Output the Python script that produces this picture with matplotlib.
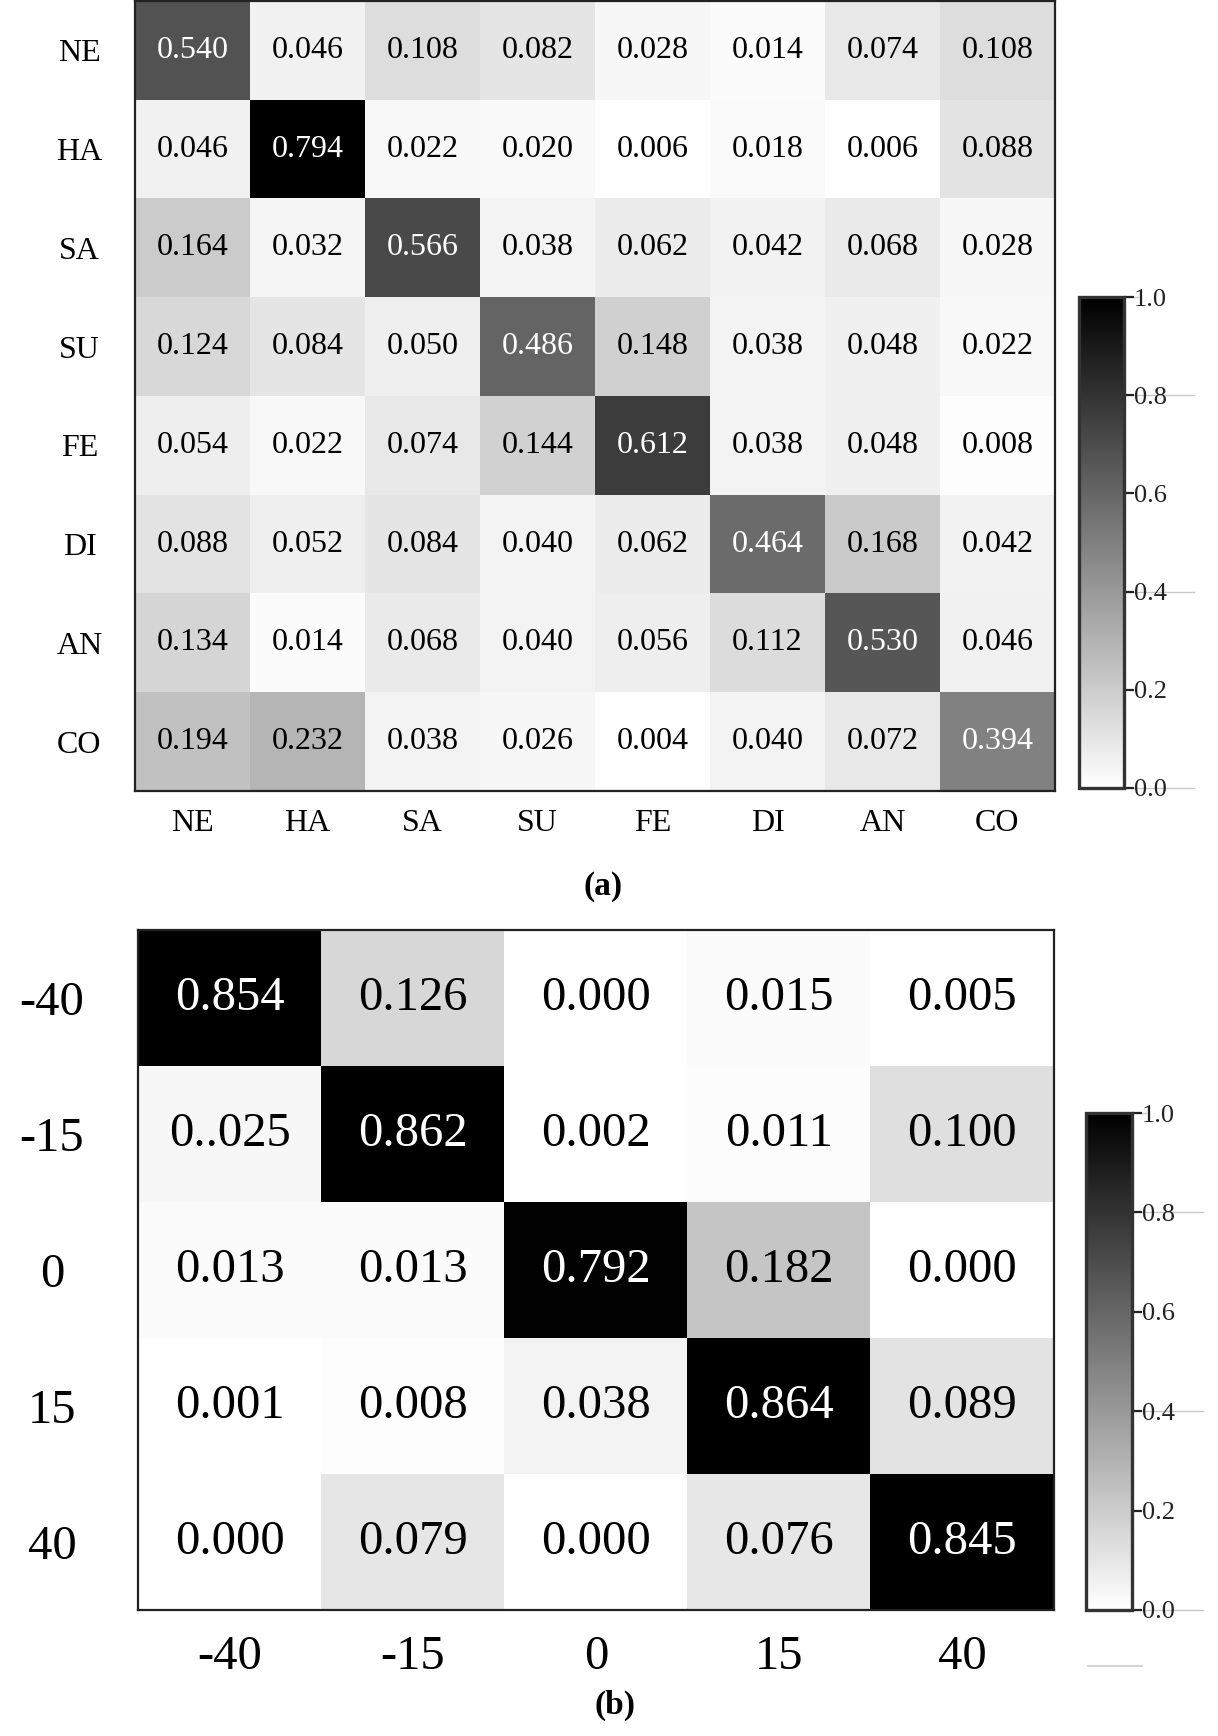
import matplotlib
matplotlib.use("Agg")
import matplotlib.pyplot as plt
import numpy as np
from matplotlib.colors import Normalize
from matplotlib.cm import ScalarMappable

# ---------------- data ----------------
emotions = ["NE", "HA", "SA", "SU", "FE", "DI", "AN", "CO"]
conf_a = [
    [0.540, 0.046, 0.108, 0.082, 0.028, 0.014, 0.074, 0.108],
    [0.046, 0.794, 0.022, 0.020, 0.006, 0.018, 0.006, 0.088],
    [0.164, 0.032, 0.566, 0.038, 0.062, 0.042, 0.068, 0.028],
    [0.124, 0.084, 0.050, 0.486, 0.148, 0.038, 0.048, 0.022],
    [0.054, 0.022, 0.074, 0.144, 0.612, 0.038, 0.048, 0.008],
    [0.088, 0.052, 0.084, 0.040, 0.062, 0.464, 0.168, 0.042],
    [0.134, 0.014, 0.068, 0.040, 0.056, 0.112, 0.530, 0.046],
    [0.194, 0.232, 0.038, 0.026, 0.004, 0.040, 0.072, 0.394],
]
angles = ["-40", "-15", "0", "15", "40"]
conf_b = [
    [0.854, 0.126, 0.000, 0.015, 0.005],
    [0.025, 0.862, 0.002, 0.011, 0.100],
    [0.013, 0.013, 0.792, 0.182, 0.000],
    [0.001, 0.008, 0.038, 0.864, 0.089],
    [0.000, 0.079, 0.000, 0.076, 0.845],
]
cbar_ticks = [0.0, 0.2, 0.4, 0.6, 0.8, 1.0]
panel_labels = ["(a)", "(b)"]

W, H = 1218, 1736
fig = plt.figure(figsize=(W / 100, H / 100), dpi=100)
serif = ["Liberation Serif", "DejaVu Serif"]
plt.rcParams["font.family"] = serif


def box(l, t, r, b):
    return [l / W, 1 - b / H, (r - l) / W, (b - t) / H]


def heat(ax, data, labels, fs_cell, fs_lab, ypad, xpad, texts=None,
         cell_weight="normal"):
    arr = np.array(data)
    n = arr.shape[0]
    ax.imshow(arr, cmap="gray_r", vmin=0, vmax=0.8, aspect="auto",
              interpolation="nearest")
    for i in range(n):
        for j in range(arr.shape[1]):
            v = arr[i, j]
            s = texts[i][j] if texts is not None else f"{v:.3f}"
            ax.text(j, i, s, ha="center", va="center", fontsize=fs_cell,
                    fontweight=cell_weight,
                    color="white" if v > 0.35 else "black")
    ax.set_xticks(range(n))
    ax.set_xticklabels(labels, fontsize=fs_lab)
    ax.set_yticks(range(n))
    ax.set_yticklabels(labels, fontsize=fs_lab, ha="center")
    ax.tick_params(length=0)
    ax.tick_params(axis="y", pad=ypad)
    ax.tick_params(axis="x", pad=xpad)
    for sp in ax.spines.values():
        sp.set_linewidth(1.6)
        sp.set_color("#222222")


def cbar(cax, fs):
    sm = ScalarMappable(norm=Normalize(0, 1), cmap="gray_r")
    cb = fig.colorbar(sm, cax=cax, ticks=cbar_ticks)
    cb.ax.set_yticklabels([f"{t:.1f}" for t in cbar_ticks], fontsize=fs)
    cb.outline.set_linewidth(2.4)
    cb.outline.set_edgecolor("#333333")
    cb.ax.tick_params(length=7, width=1.6, pad=0, colors="#222222")
    # faint gray guide lines seen behind some tick labels
    for t, x1 in [(0.8, 2.55), (0.4, 2.55), (0.0, 2.55), (1.0, 1.3)]:
        cb.ax.plot([1.0, x1], [t, t], color="#c8c8c8", lw=1.0,
                   clip_on=False, transform=cb.ax.get_yaxis_transform(),
                   zorder=0)
    return cb


# panel (a)
ax_a = fig.add_axes(box(135, 1, 1055, 791))
heat(ax_a, conf_a, emotions, 23, 23, 40, 13)
cax_a = fig.add_axes(box(1079, 297, 1124, 788))
cbar(cax_a, 19)
fig.text(603 / W, 1 - 886 / H, panel_labels[0], ha="center", va="center",
         fontsize=24, fontweight="bold")

# panel (b)
texts_b = [[f"{v:.3f}" for v in row] for row in conf_b]
texts_b[1][0] = "0..025"
ax_b = fig.add_axes(box(138, 930, 1054, 1610))
heat(ax_b, conf_b, angles, 35, 35, 62, 18, texts=texts_b)
cax_b = fig.add_axes(box(1086, 1113, 1132, 1610))
cbar(cax_b, 19)
fig.text(615 / W, 1 - 1705 / H, panel_labels[1], ha="center", va="center",
         fontsize=24, fontweight="bold")
fig.add_artist(plt.Line2D([1088 / W, 1142 / W], [1 - 1666 / H, 1 - 1666 / H],
                          color="#cccccc", lw=1.2))

fig.savefig("out.png", dpi=100, facecolor="white")
